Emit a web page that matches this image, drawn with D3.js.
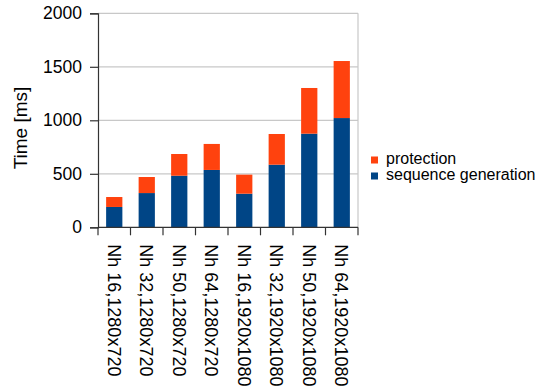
<!DOCTYPE html>
<html><head><meta charset="utf-8">
<script src="https://cdn.jsdelivr.net/npm/d3@7"></script>
<style>body{margin:0;background:#fff}svg{display:block}text{font-family:"Liberation Sans",Arial,sans-serif;fill:#000}</style>
</head><body><svg id="c" width="544" height="390"></svg>
<script>
const categories = ["Nh 16,1280x720","Nh 32,1280x720","Nh 50,1280x720","Nh 64,1280x720","Nh 16,1920x1080","Nh 32,1920x1080","Nh 50,1920x1080","Nh 64,1920x1080"];
const seqGen = [190, 320, 482, 536, 314, 585, 875, 1021];
const protection = [93, 150, 203, 243, 178, 287, 427, 533];
const yTicks = [0, 500, 1000, 1500, 2000];
const seriesNames = ["sequence generation", "protection"];
const colors = {"sequence generation":"#004586", "protection":"#ff420e"};

const svg = d3.select("#c");
const L = 98, R = 358, T = 13.3, B = 227.3;
const x = d3.scaleBand().domain(categories).range([L, R]).paddingInner(0.5).paddingOuter(0.25);
const xb = d3.scaleBand().domain(categories).range([L, R]);
const y = d3.scaleLinear().domain([0, 2000]).range([B, T]);

// grid
svg.append("g").selectAll("line").data(yTicks.filter(d=>d>0)).join("line")
  .attr("x1", L).attr("x2", R).attr("y1", d=>y(d)).attr("y2", d=>y(d))
  .attr("stroke", "#c8c8c8").attr("stroke-width", 1.2);
svg.append("line").attr("x1", R).attr("x2", R).attr("y1", T).attr("y2", B)
  .attr("stroke", "#c8c8c8").attr("stroke-width", 1.2);

// bars
const rows = categories.map((c,i)=>({cat:c, "sequence generation":seqGen[i], "protection":protection[i]}));
const stack = d3.stack().keys(seriesNames)(rows);
svg.append("g").selectAll("g").data(stack).join("g").attr("fill", d=>colors[d.key])
  .selectAll("rect").data(d=>d).join("rect")
  .attr("x", d=>x(d.data.cat)).attr("width", x.bandwidth())
  .attr("y", d=>y(d[1])).attr("height", d=>y(d[0])-y(d[1]));

// y axis
const ya = svg.append("g").attr("transform", `translate(${L},0)`)
  .call(d3.axisLeft(y).tickValues(yTicks).tickFormat(d3.format("d")).tickSize(8).tickPadding(8));
ya.select(".domain").attr("stroke", "#333").attr("stroke-width", 1.2);
ya.selectAll(".tick line").attr("stroke", "#333").attr("stroke-width", 1.2);
ya.selectAll("text").attr("font-size", "17.5px").attr("font-family", "Liberation Sans, Arial, sans-serif").attr("fill", "#000");

// x axis with ticks at band boundaries
const xa = svg.append("g").attr("transform", `translate(0,${B})`);
xa.append("line").attr("x1", L).attr("x2", R).attr("stroke", "#333").attr("stroke-width", 1.2);
const bounds = categories.map(c=>xb(c)).concat([R]);
xa.selectAll("line.t").data(bounds).join("line").attr("class","t")
  .attr("x1", d=>d).attr("x2", d=>d).attr("y1", 0).attr("y2", 8)
  .attr("stroke", "#333").attr("stroke-width", 1.2);
xa.selectAll("text").data(categories).join("text")
  .attr("transform", d=>`translate(${xb(d)+xb.bandwidth()/2},17) rotate(90)`)
  .attr("dy", "0.35em").attr("font-size", "18px").text(d=>d);

// y title
svg.append("text").attr("transform", "translate(27,128) rotate(-90)")
  .attr("text-anchor", "middle").attr("font-size", "19px").text("Time [ms]");

// legend
const leg = svg.append("g").attr("transform", "translate(371,0)");
const legItems = ["protection", "sequence generation"];
legItems.forEach((k,i)=>{
  const yy = 164 + i*16;
  leg.append("rect").attr("x", 0).attr("y", yy-7.5).attr("width", 7).attr("height", 7).attr("fill", colors[k]);
  leg.append("text").attr("x", 15).attr("y", yy).attr("font-size", "16px").text(k);
});
</script></body></html>
